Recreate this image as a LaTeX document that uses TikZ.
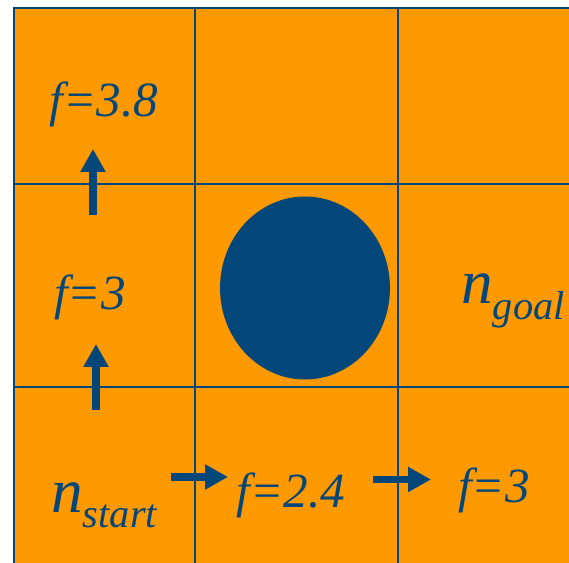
\documentclass[tikz,border=0pt]{standalone}
\usepackage{fontspec}
\setmainfont{Liberation Serif}
\newfontfamily\labelfont{Liberation Serif Italic}
\usetikzlibrary{arrows.meta, shapes.geometric}
\definecolor{cellfill}{HTML}{FF9900}
\definecolor{navy}{HTML}{02467A}

\begin{document}
\begin{tikzpicture}[
  x=0.02cm, y=-0.02cm,
  gridline/.style={draw=navy, line width=1.2pt},
  obstacle/.style={ellipse, fill=navy, inner sep=0pt,
    minimum width=3.4cm, minimum height=3.66cm},
  cost/.style={anchor=base, inner sep=0pt, text=navy,
    font=\labelfont\fontsize{28}{32}\selectfont},
  state/.style={anchor=base west, inner sep=0pt, text=navy,
    font=\labelfont\fontsize{36}{40}\selectfont},
  move/.style={-{Triangle[length=13pt, width=13.5pt]}, line width=4.5pt, color=navy},
]
\useasboundingbox (0,0) rectangle (569,563);
\clip (0,0) rectangle (569,563);
% grid of cells
\fill[cellfill] (14,8) rectangle (600,600);
\draw[gridline] (14,600) -- (14,8) -- (600,8);
\foreach \x in {195,398} \draw[gridline] (\x,8) -- (\x,600);
\foreach \y in {184,387} \draw[gridline] (14,\y) -- (600,\y);
% obstacle
\node[obstacle] (obst) at (305,288) {};
% cost labels
\node[cost] (ftop) at (104,117) {f=3.8};
\node[cost] (fmid) at (90,310) {f=3};
\node[cost] (fbot) at (291,508) {f=2.4};
\node[cost] (fright) at (494,503) {f=3};
% start and goal
\node[state] (start) at (51,513) {n\raisebox{-8.5pt}{\fontsize{23}{26}\selectfont start}};
\node[state] (goal) at (461,304) {n\raisebox{-9pt}{\fontsize{23}{26}\selectfont goal}};
% moves
\coordinate (up1s) at (93,215);
\coordinate (up1e) at (93,149);
\coordinate (up2s) at (96,410);
\coordinate (up2e) at (96,344);
\coordinate (rt1s) at (171,477);
\coordinate (rt1e) at (228,477);
\coordinate (rt2s) at (373,479.5);
\coordinate (rt2e) at (431,479.5);
\draw[move] (up1s) -- (up1e);
\draw[move] (up2s) -- (up2e);
\draw[move] (rt1s) -- (rt1e);
\draw[move] (rt2s) -- (rt2e);
\end{tikzpicture}
\end{document}
